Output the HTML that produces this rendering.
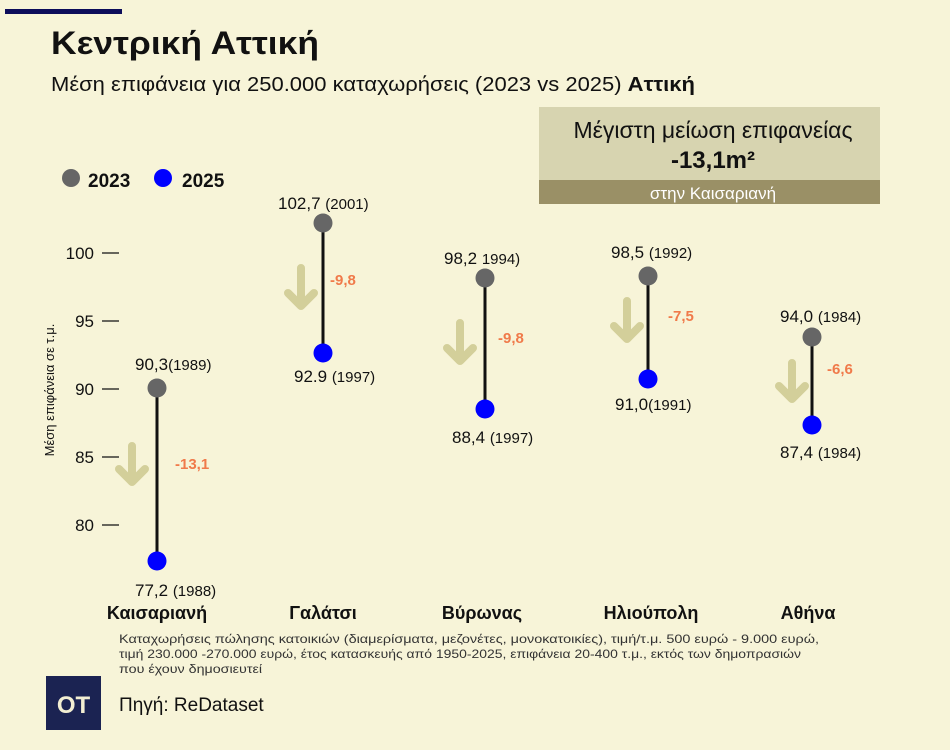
<!DOCTYPE html>
<html><head><meta charset="utf-8"><style>
body{margin:0;background:#f7f4d8;}
svg{display:block;font-family:"Liberation Sans","DejaVu Sans",sans-serif;}
</style></head><body>
<svg width="950" height="750" viewBox="0 0 950 750" xmlns="http://www.w3.org/2000/svg">
<rect width="950" height="750" fill="#f7f4d8"/>
<rect x="5" y="9" width="117" height="5" fill="#0d0d5a"/>
<text x="51" y="54" font-size="32" font-weight="bold" fill="#111" textLength="268" lengthAdjust="spacingAndGlyphs">Κεντρική Αττική</text>
<text x="51" y="91" font-size="20" fill="#111" textLength="644" lengthAdjust="spacingAndGlyphs">Μέση επιφάνεια για 250.000 καταχωρήσεις (2023 vs 2025) <tspan font-weight="bold">Αττική</tspan></text>
<rect x="539" y="107" width="341" height="74" fill="#d7d4b0"/>
<rect x="539" y="180" width="341" height="24" fill="#9a9066"/>
<text x="713" y="138" font-size="23" text-anchor="middle" fill="#111">Μέγιστη μείωση επιφανείας</text>
<text x="713" y="168" font-size="24" font-weight="bold" text-anchor="middle" fill="#111">-13,1m²</text>
<text x="713" y="199" font-size="17" text-anchor="middle" fill="#fff">στην Καισαριανή</text>
<circle cx="71" cy="178" r="9" fill="#666"/>
<text x="88" y="187" font-size="19" font-weight="bold" fill="#111">2023</text>
<circle cx="163" cy="178" r="9" fill="#0000ff"/>
<text x="182" y="187" font-size="19" font-weight="bold" fill="#111">2025</text>
<text transform="translate(54,390) rotate(-90)" font-size="13" text-anchor="middle" fill="#111">Μέση επιφάνεια σε τ.μ.</text>
<g font-size="17" fill="#111" text-anchor="end">
<text x="94" y="259">100</text><text x="94" y="327">95</text><text x="94" y="395">90</text><text x="94" y="463">85</text><text x="94" y="531">80</text>
</g>
<g stroke="#111" stroke-width="1.2">
<line x1="102" y1="253" x2="119" y2="253"/><line x1="102" y1="321" x2="119" y2="321"/><line x1="102" y1="389" x2="119" y2="389"/><line x1="102" y1="457" x2="119" y2="457"/><line x1="102" y1="525" x2="119" y2="525"/>
</g>
<g stroke="#d3cf9a" stroke-width="8" fill="none" stroke-linecap="round" stroke-linejoin="round">
<path d="M132 446V482M119 469L132 482L145 469"/>
<path d="M301 268V306M288 293L301 306L314 293"/>
<path d="M460 323V361M447 348L460 361L473 348"/>
<path d="M627 301V339M614 326L627 339L640 326"/>
<path d="M792 363V399M779 386L792 399L805 386"/>
</g>
<g stroke="#111" stroke-width="3">
<line x1="157" y1="388" x2="157" y2="561"/>
<line x1="323" y1="223" x2="323" y2="353"/>
<line x1="485" y1="278" x2="485" y2="409"/>
<line x1="648" y1="276" x2="648" y2="379"/>
<line x1="812" y1="337" x2="812" y2="425"/>
</g>
<g fill="#666"><circle cx="157" cy="388" r="9.5"/><circle cx="323" cy="223" r="9.5"/><circle cx="485" cy="278" r="9.5"/><circle cx="648" cy="276" r="9.5"/><circle cx="812" cy="337" r="9.5"/></g>
<g fill="#0000ff"><circle cx="157" cy="561" r="9.5"/><circle cx="323" cy="353" r="9.5"/><circle cx="485" cy="409" r="9.5"/><circle cx="648" cy="379" r="9.5"/><circle cx="812" cy="425" r="9.5"/></g>
<g font-size="15" font-weight="bold" fill="#f07a4a">
<text x="175" y="469">-13,1</text><text x="330" y="285">-9,8</text><text x="498" y="343">-9,8</text><text x="668" y="321">-7,5</text><text x="827" y="374">-6,6</text>
</g>
<g fill="#111" font-size="17">
<text x="135" y="370">90,3<tspan font-size="15">(1989)</tspan></text>
<text x="135" y="596">77,2 <tspan font-size="15">(1988)</tspan></text>
<text x="278" y="209">102,7 <tspan font-size="15">(2001)</tspan></text>
<text x="294" y="382">92.9 <tspan font-size="15">(1997)</tspan></text>
<text x="444" y="264">98,2 <tspan font-size="15">1994)</tspan></text>
<text x="452" y="443">88,4 <tspan font-size="15">(1997)</tspan></text>
<text x="611" y="258">98,5 <tspan font-size="15">(1992)</tspan></text>
<text x="615" y="410">91,0<tspan font-size="15">(1991)</tspan></text>
<text x="780" y="322">94,0 <tspan font-size="15">(1984)</tspan></text>
<text x="780" y="458">87,4 <tspan font-size="15">(1984)</tspan></text>
</g>
<g font-size="18" font-weight="bold" fill="#111" text-anchor="middle">
<text x="157" y="619">Καισαριανή</text><text x="323" y="619">Γαλάτσι</text><text x="482" y="619">Βύρωνας</text><text x="651" y="619">Ηλιούπολη</text><text x="808" y="619">Αθήνα</text>
</g>
<g font-size="12" fill="#333">
<text x="119" y="643" textLength="700" lengthAdjust="spacingAndGlyphs">Καταχωρήσεις πώλησης κατοικιών (διαμερίσματα, μεζονέτες, μονοκατοικίες), τιμή/τ.μ.  500 ευρώ - 9.000 ευρώ,</text>
<text x="119" y="658" textLength="682" lengthAdjust="spacingAndGlyphs">τιμή 230.000 -270.000 ευρώ, έτος κατασκευής από 1950-2025, επιφάνεια 20-400 τ.μ., εκτός των δημοπρασιών</text>
<text x="119" y="673" textLength="143" lengthAdjust="spacingAndGlyphs">που έχουν δημοσιευτεί</text>
</g>
<rect x="46" y="676" width="55" height="54" fill="#1b2352"/>
<text x="73.5" y="713" font-size="24" font-weight="bold" fill="#f2eed2" text-anchor="middle">OT</text>
<text x="119" y="711" font-size="19" fill="#111">Πηγή: ReDataset</text>
</svg>
</body></html>
